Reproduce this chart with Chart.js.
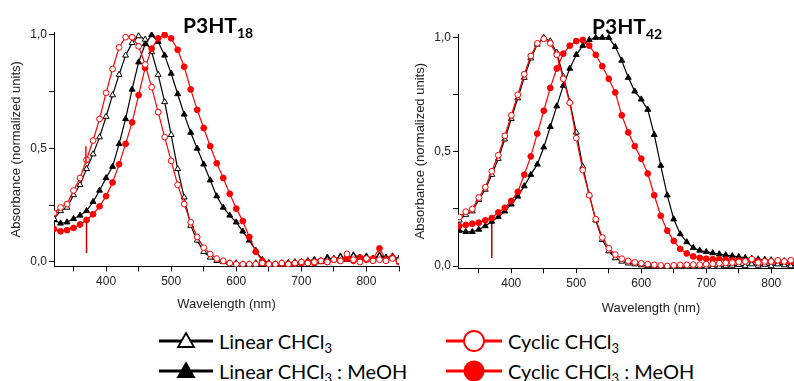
<!DOCTYPE html>
<html>
<head>
<meta charset="utf-8">
<script src="https://cdn.jsdelivr.net/npm/chart.js@4.4.1/dist/chart.umd.min.js"></script>
<style>
  html, body { margin:0; padding:0; background:#fff; overflow:hidden; }
  body { width:794px; height:381px; position:relative; }
  canvas { position:absolute; top:0; }
  #c18 { left:0; }
  #c42 { left:400px; }
  .ttl { position:absolute; font-family:Lato, sans-serif; font-weight:bold; font-size:21px; line-height:21px; color:#000; white-space:nowrap; }
  .ttl sub { font-size:14px; vertical-align:-5px; line-height:0; }
  .leg { position:absolute; font-family:Lato, sans-serif; font-size:20px; color:#000; height:26px; display:flex; align-items:center; white-space:nowrap; }
  .leg svg { margin-right:6px; flex:none; }
  .leg span { white-space:pre; }
  .leg sub { font-size:13px; vertical-align:-4px; line-height:0; }
</style>
</head>
<body>
<canvas id="c18" width="410" height="312"></canvas>
<canvas id="c42" width="460" height="316"></canvas>

<div class="ttl" style="left:183px; top:14px">P3HT<sub>18</sub></div>
<div class="ttl" style="left:592px; top:15px">P3HT<sub>42</sub></div>

<div class="leg" style="left:159px; top:328px">
  <svg width="54" height="26"><line x1="0" y1="13" x2="54" y2="13" stroke="#000" stroke-width="3"/><polygon points="27,5 35,19 19,19" fill="#fff" stroke="#000" stroke-width="1.8"/></svg><span>Linear CHCl<sub>3</sub></span>
</div>
<div class="leg" style="left:159px; top:358px">
  <svg width="54" height="26"><line x1="0" y1="13" x2="54" y2="13" stroke="#000" stroke-width="3"/><polygon points="27,5 35,19 19,19" fill="#000" stroke="#000" stroke-width="1.8"/></svg><span>Linear CHCl<sub>3</sub> : MeOH</span>
</div>
<div class="leg" style="left:446px; top:328px">
  <svg width="56" height="26"><line x1="0" y1="13" x2="56" y2="13" stroke="#f00" stroke-width="3"/><circle cx="28" cy="13" r="10" fill="#fff" stroke="#f00" stroke-width="1.8"/></svg><span>Cyclic CHCl<sub>3</sub></span>
</div>
<div class="leg" style="left:446px; top:358px">
  <svg width="56" height="26"><line x1="0" y1="13" x2="56" y2="13" stroke="#f00" stroke-width="3"/><circle cx="28" cy="13" r="10.5" fill="#f00"/></svg><span>Cyclic CHCl<sub>3</sub> : MeOH</span>
</div>

<script>
// wavelength (nm)
const wl18 = [320,330,340,350,360,370,380,390,400,410,420,430,440,450,460,470,480,490,500,510,
  520,530,540,550,560,570,580,590,600,610,620,630,640,650,660,670,680,690,700,710,
  720,730,740,750,760,770,780,790,800,810,820,830,840,850];
const wl42 = [320,330,340,350,360,370,380,390,400,410,420,430,440,450,460,470,480,490,500,510,
  520,530,540,550,560,570,580,590,600,610,620,630,640,650,660,670,680,690,700,710,
  720,730,740,750,760,770,780,790,800,810,820,830,840];

// P3HT18
const linChcl18 = [0.19,0.225,0.24,0.295,0.34,0.41,0.475,0.55,0.64,0.735,0.825,0.91,0.965,0.995,0.98,0.925,0.825,0.705,0.56,0.41,
  0.285,0.16,0.095,0.045,0.02,0.005,0,-0.005,-0.005,-0.01,-0.01,-0.005,-0.01,-0.005,-0.01,-0.005,-0.005,0,-0.005,0,
  0.005,0,0.01,0.015,0.02,0.01,0.025,0.015,0.02,0.01,0.025,0.015,0.02,0.01];
const cycChcl18 = [0.215,0.24,0.255,0.315,0.37,0.45,0.535,0.63,0.745,0.85,0.945,0.99,0.99,0.95,0.87,0.77,0.66,0.55,0.445,0.34,
  0.255,0.175,0.11,0.063,0.035,0.015,0.005,-0.005,-0.01,-0.01,-0.01,-0.01,-0.005,-0.01,-0.01,-0.005,-0.01,-0.005,0,-0.005,
  0,0.005,0,0.01,0.005,0.035,0.01,0,0.015,0.005,0.01,0.005,0.015,0.005];
const linMeoh18 = [0.185,0.17,0.175,0.19,0.205,0.225,0.265,0.315,0.37,0.42,0.52,0.63,0.76,0.88,0.96,1.0,0.97,0.91,0.83,0.74,
  0.65,0.57,0.5,0.43,0.36,0.29,0.24,0.205,0.175,0.135,0.095,0.05,0.01,-0.005,-0.01,-0.01,-0.005,-0.01,0,0.005,
  0.01,0.005,0.02,0.01,0.025,0.015,0.03,0.02,0.025,0.015,0.03,0.02,0.025,0.015];
const cycMeoh18 = [0.145,0.135,0.14,0.15,0.165,0.185,0.21,0.245,0.29,0.35,0.43,0.52,0.615,0.735,0.855,0.94,0.985,1.0,0.985,0.935,
  0.86,0.76,0.67,0.59,0.51,0.435,0.37,0.3,0.235,0.18,0.11,0.045,0.005,-0.01,-0.01,-0.015,-0.01,-0.01,-0.005,0,
  -0.005,0.005,0,0.01,0.005,0.015,0.005,0.02,0.01,0.015,0.06,0.01,0.02,0];

// P3HT42
const linChcl42 = [0.2,0.225,0.24,0.29,0.335,0.4,0.47,0.555,0.645,0.735,0.825,0.91,0.97,1.0,0.985,0.935,0.83,0.72,0.585,0.435,
  0.31,0.2,0.115,0.065,0.035,0.02,0.012,0.008,0.004,0,-0.003,-0.005,-0.005,-0.006,-0.005,-0.006,-0.006,-0.005,-0.006,-0.004,
  -0.003,0,0.002,0.005,0,0.008,0.002,0.006,0,0.008,0.004,0,0.004];
const cycChcl42 = [0.215,0.238,0.25,0.3,0.345,0.415,0.485,0.57,0.66,0.75,0.84,0.92,0.975,0.995,0.975,0.925,0.82,0.715,0.56,0.42,
  0.31,0.205,0.125,0.078,0.05,0.032,0.022,0.016,0.012,0.008,0.005,0.003,0,0.003,0.005,0.005,0.006,0.006,0.008,0.01,
  0.012,0.014,0.015,0.018,0.02,0.03,0.015,0.02,0.02,0.025,0.02,0.025,0.02];
const linMeoh42 = [0.155,0.15,0.15,0.16,0.175,0.195,0.215,0.24,0.27,0.305,0.35,0.4,0.445,0.52,0.61,0.7,0.79,0.865,0.925,0.965,
  0.99,1.0,1.0,1.0,0.96,0.9,0.825,0.765,0.73,0.685,0.575,0.44,0.31,0.205,0.14,0.105,0.08,0.068,0.062,0.057,
  0.052,0.048,0.044,0.04,0.036,0.033,0.03,0.028,0.026,0.024,0.022,0.02,0.02];
const cycMeoh42 = [0.175,0.18,0.185,0.19,0.2,0.21,0.235,0.255,0.285,0.325,0.4,0.48,0.58,0.68,0.78,0.865,0.93,0.965,0.985,0.99,
  0.965,0.925,0.875,0.82,0.76,0.66,0.585,0.525,0.47,0.405,0.31,0.22,0.155,0.11,0.075,0.055,0.042,0.036,0.032,0.03,
  0.03,0.028,0.025,0.024,0.022,0.02,0.02,0.018,0.015,0.016,0.015,0.012,0.012];

// artefact spikes near 370 nm
const spike18X = [370, 370], spike18Y = [0.185, 0.04];
const spikeUp18X = [369, 369], spikeUp18Y = [0.43, 0.51];
const spike42X = [370, 370], spike42Y = [0.21, 0.035];

// ticks
const xTicks18 = [350,400,450,500,550,600,650,700,750,800,850];
const xTicks42 = [350,400,450,500,550,600,650,700,750,800,850,900];
const yTicks = [0, 0.25, 0.5, 0.75, 1.0];

const RED = '#ff0000', BLACK = '#000000', DARKRED = '#b40000';

function pts(xs, ys) {
  return xs.map((x, i) => ({ x: x, y: ys[i] }));
}

function series(label, xs, ys, color, style, filled) {
  return {
    label: label,
    data: pts(xs, ys),
    borderColor: color,
    borderWidth: 1.2,
    pointStyle: style,
    pointRadius: style === 'triangle' ? 3.4 : 2.9,
    pointBorderWidth: 1,
    pointBorderColor: color,
    pointBackgroundColor: filled ? color : '#ffffff',
    tension: 0
  };
}

function spike(xs, ys, color) {
  return { label: 'spike', data: pts(xs, ys), borderColor: color, borderWidth: 1.5, pointRadius: 0 };
}

function makeChart(id, datasets, xr, yr, xTicks, pad, yW, xH) {
  new Chart(document.getElementById(id), {
    type: 'line',
    data: { datasets: datasets },
    options: {
      responsive: false,
      animation: false,
      events: [],
      layout: { padding: pad },
      plugins: { legend: { display: false }, tooltip: { enabled: false } },
      scales: {
        x: {
          type: 'linear', min: xr[0], max: xr[1],
          afterBuildTicks: s => { s.ticks = xTicks.map(v => ({ value: v })); },
          afterFit: s => { s.height = xH; },
          grid: { drawOnChartArea: false, drawTicks: true, tickLength: 5, color: '#000' },
          border: { display: true, color: '#000', width: 1 },
          ticks: {
            autoSkip: false, maxRotation: 0, padding: 3, color: '#222',
            font: { family: 'Liberation Sans, Arial', size: 12 },
            callback: v => (v % 100 === 0 ? String(v) : '')
          },
          title: { display: true, text: 'Wavelength (nm)', color: '#222',
            font: { family: 'Liberation Sans, Arial', size: 13 }, padding: 0 }
        },
        y: {
          type: 'linear', min: yr[0], max: yr[1],
          afterBuildTicks: s => { s.ticks = yTicks.map(v => ({ value: v })); },
          afterFit: s => { s.width = yW; },
          grid: { drawOnChartArea: false, drawTicks: true, tickLength: 5, color: '#000' },
          border: { display: true, color: '#000', width: 1 },
          ticks: {
            autoSkip: false, padding: 2, color: '#222',
            font: { family: 'Liberation Sans, Arial', size: 12 },
            callback: v => (Math.abs(v * 2 - Math.round(v * 2)) < 1e-6 ? v.toFixed(1).replace('.', ',') : '')
          },
          title: { display: true, text: 'Absorbance (normalized units)', color: '#222',
            font: { family: 'Liberation Sans, Arial', size: 13 }, padding: 0 }
        }
      }
    }
  });
}

makeChart('c18', [
  spike(spikeUp18X, spikeUp18Y, RED),
  series('Cyclic CHCl3', wl18, cycChcl18, RED, 'circle', false),
  series('Cyclic CHCl3 : MeOH', wl18, cycMeoh18, RED, 'circle', true),
  series('Linear CHCl3', wl18, linChcl18, BLACK, 'triangle', false),
  series('Linear CHCl3 : MeOH', wl18, linMeoh18, BLACK, 'triangle', true),
  spike(spike18X, spike18Y, DARKRED)
], [320, 850], [-0.02, 1.013], xTicks18, { left: 9, right: 11, top: 32, bottom: 0 }, 45, 45.5);

makeChart('c42', [
  series('Cyclic CHCl3', wl42, cycChcl42, RED, 'circle', false),
  series('Linear CHCl3', wl42, linChcl42, BLACK, 'triangle', false),
  series('Cyclic CHCl3 : MeOH', wl42, cycMeoh42, RED, 'circle', true),
  series('Linear CHCl3 : MeOH', wl42, linMeoh42, BLACK, 'triangle', true),
  spike(spike42X, spike42Y, DARKRED)
], [318, 912], [-0.01, 1.016], xTicks42, { left: 13, right: 16, top: 34, bottom: 0 }, 45, 47.7);
</script>
</body>
</html>
